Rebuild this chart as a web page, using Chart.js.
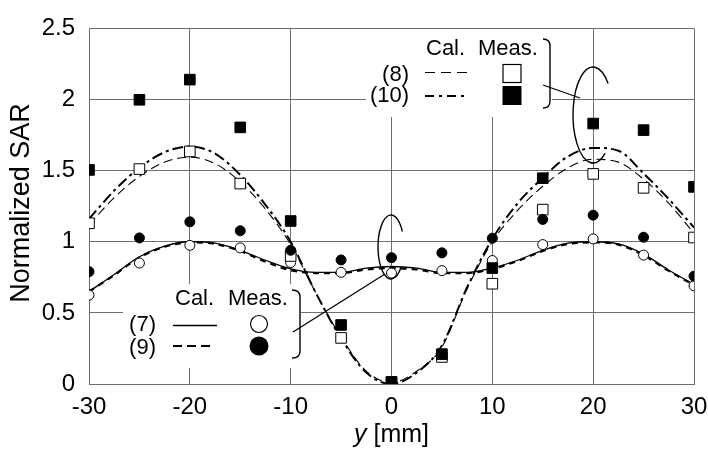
<!DOCTYPE html>
<html>
<head>
<meta charset="utf-8">
<script src="https://cdn.jsdelivr.net/npm/chart.js@4"></script>
<style>
html,body{margin:0;padding:0;background:#fff;}
#wrap{width:708px;height:452px;}
</style>
</head>
<body>
<div id="wrap"><canvas id="c" width="708" height="452"></canvas></div>
<script>
// ---- data ----
const xCurve = [-30,-27.5,-25,-22.5,-20,-17.5,-15,-12.5,-10,-7.5,-5,-2.5,0,2.5,5,7.5,10,12.5,15,17.5,20,22.5,25,27.5,30];
const cal7  = [0.65,0.77,0.895,0.97,1.0,0.99,0.94,0.87,0.81,0.785,0.785,0.815,0.826,0.815,0.785,0.785,0.815,0.87,0.94,0.99,1.0,0.985,0.913,0.80,0.70];
const cal9  = [0.65,0.765,0.89,0.965,0.995,0.985,0.935,0.86,0.80,0.78,0.78,0.805,0.815,0.805,0.78,0.78,0.81,0.865,0.935,0.985,0.995,0.98,0.905,0.795,0.695];
const cal8  = [1.12,1.31,1.46,1.56,1.595,1.55,1.42,1.23,0.98,0.64,0.33,0.09,0.01,0.09,0.26,0.67,1.0,1.22,1.39,1.52,1.58,1.56,1.44,1.27,1.06];
const cal10 = [1.16,1.36,1.52,1.63,1.67,1.62,1.47,1.26,1.0,0.64,0.32,0.08,0.0,0.08,0.27,0.68,1.02,1.27,1.45,1.6,1.66,1.64,1.48,1.3,1.1];

const xMeas  = [-30,-25,-20,-15,-10,-5,0,5,10,15,20,25,30];
const meas7  = [0.625,0.85,0.975,0.957,0.854,0.785,0.78,0.797,0.868,0.98,1.02,0.906,0.69];
const meas9  = [0.79,1.027,1.14,1.077,0.94,0.872,0.888,0.922,1.025,1.157,1.187,1.032,0.758];
const meas8  = [1.13,1.511,1.635,1.409,0.9,0.324,0.01,0.19,0.705,1.226,1.477,1.379,1.03];
const meas10 = [1.505,1.998,2.14,1.804,1.146,0.415,0.015,0.21,0.815,1.447,1.831,1.785,1.386];

const xTicks = [-30,-20,-10,0,10,20,30];
const yTicks = [0,0.5,1,1.5,2,2.5];

const pts = (xs, ys) => xs.map((x, i) => ({x: x, y: ys[i]}));

const FONT = '"Liberation Sans", Arial, Helvetica, sans-serif';

const annot = {
  id: 'annot',
  beforeDatasetsDraw(chart) {
    const ctx = chart.ctx;
    ctx.save();
    ctx.fillStyle = '#fff';
    ctx.fillRect(366, 29, 186, 88);
    ctx.fillRect(123, 284, 178, 84);
    ctx.restore();
  },
  afterDatasetsDraw(chart) {
    const ctx = chart.ctx;
    ctx.save();
    ctx.fillStyle = '#000';
    ctx.strokeStyle = '#000';
    ctx.font = '22px ' + FONT;
    ctx.textBaseline = 'alphabetic';
    // upper legend
    ctx.textAlign = 'left';
    ctx.fillText('Cal.', 426, 55);
    ctx.fillText('Meas.', 478, 55);
    ctx.textAlign = 'right';
    ctx.fillText('(8)', 409, 81);
    ctx.fillText('(10)', 409, 102);
    // lower legend
    ctx.textAlign = 'left';
    ctx.fillText('Cal.', 175, 305);
    ctx.fillText('Meas.', 228, 305);
    ctx.textAlign = 'right';
    ctx.fillText('(7)', 156, 331);
    ctx.fillText('(9)', 156, 354);

    const seg = (x1, y1, x2, y2, w, dash) => {
      ctx.beginPath();
      ctx.lineWidth = w;
      ctx.setLineDash(dash || []);
      ctx.moveTo(x1, y1); ctx.lineTo(x2, y2);
      ctx.stroke();
      ctx.setLineDash([]);
    };
    seg(425, 72.5, 468, 72.5, 1, [10, 6]);
    seg(425, 96, 468, 96, 2, [9, 5, 3, 5]);
    seg(173, 325.5, 217, 325.5, 1.3);
    seg(173, 346, 215, 346, 2, [9, 5]);

    // legend markers
    ctx.lineWidth = 1.2;
    ctx.fillStyle = '#fff';
    ctx.fillRect(503, 64.5, 18, 18);
    ctx.strokeRect(503, 64.5, 18, 18);
    ctx.fillStyle = '#000';
    ctx.fillRect(502.5, 86, 19, 19);
    ctx.beginPath(); ctx.arc(259, 324, 8.5, 0, Math.PI * 2);
    ctx.fillStyle = '#fff'; ctx.fill(); ctx.stroke();
    ctx.beginPath(); ctx.arc(259, 346, 9.5, 0, Math.PI * 2);
    ctx.fillStyle = '#000'; ctx.fill();

    // brackets
    ctx.lineWidth = 1.4;
    ctx.beginPath();
    ctx.moveTo(543, 39); ctx.quadraticCurveTo(550, 39, 550, 46);
    ctx.lineTo(550, 101); ctx.quadraticCurveTo(550, 108, 543, 108);
    ctx.stroke();
    ctx.beginPath();
    ctx.moveTo(292, 290); ctx.quadraticCurveTo(300, 290, 300, 297);
    ctx.lineTo(300, 351); ctx.quadraticCurveTo(300, 358, 292, 358);
    ctx.stroke();

    // connectors
    seg(543, 85, 580, 98, 1.3);
    seg(293, 332, 385, 274, 1.3);

    // ellipses
    const d = Math.PI / 180;
    ctx.lineWidth = 1.4;
    ctx.beginPath();
    ctx.ellipse(593, 115, 20, 48, 0, 53 * d, 319 * d);
    ctx.stroke();
    ctx.beginPath();
    ctx.ellipse(391, 247, 13, 32, 0, 40 * d, 331 * d);
    ctx.stroke();

    // axis titles
    ctx.fillStyle = '#000';
    ctx.textBaseline = 'alphabetic';
    const italic = 'italic 25px ' + FONT;
    const normal = '25px ' + FONT;
    ctx.font = italic; const w1 = ctx.measureText('y').width;
    ctx.font = normal; const w2 = ctx.measureText(' [mm]').width;
    const x0 = 391.5 - (w1 + w2) / 2;
    ctx.textAlign = 'left';
    ctx.font = italic; ctx.fillText('y', x0, 442);
    ctx.font = normal; ctx.fillText(' [mm]', x0 + w1, 442);

    ctx.translate(22, 203);
    ctx.rotate(-Math.PI / 2);
    ctx.font = '27px ' + FONT;
    ctx.textAlign = 'center';
    ctx.textBaseline = 'middle';
    ctx.fillText('Normalized SAR', 0, 0);
    ctx.restore();
  }
};

const lineDs = (ys, w, dash, order) => ({
  data: pts(xCurve, ys), showLine: true, borderColor: '#000', borderWidth: w,
  borderDash: dash, pointRadius: 0, fill: false, cubicInterpolationMode: 'monotone', order: order
});
const markDs = (ys, style, r, filled, order) => ({
  data: pts(xMeas, ys), showLine: false, pointStyle: style, pointRadius: r,
  pointBackgroundColor: filled ? '#000' : '#fff', pointBorderColor: '#000',
  pointBorderWidth: 1, order: order
});

new Chart(document.getElementById('c'), {
  type: 'scatter',
  data: {
    datasets: [
      lineDs(cal7, 1.3, [], 6),
      lineDs(cal9, 2.2, [6, 5], 7),
      lineDs(cal8, 1.1, [9, 5], 8),
      lineDs(cal10, 2, [11, 4, 3, 4], 9),
      markDs(meas7, 'circle', 5, false, 4),
      markDs(meas9, 'circle', 5, true, 2),
      markDs(meas8, 'rect', 7.5, false, 3),
      markDs(meas10, 'rect', 7.5, true, 1)
    ]
  },
  options: {
    responsive: false,
    animation: false,
    devicePixelRatio: 1,
    layout: {padding: {left: 0, right: 14, top: 19, bottom: 0}},
    plugins: {legend: {display: false}, tooltip: {enabled: false}},
    scales: {
      x: {
        type: 'linear', min: -30, max: 30,
        afterBuildTicks: s => { s.ticks = xTicks.map(v => ({value: v})); },
        afterFit: s => { s.height = 68; s.paddingLeft = 0; s.paddingRight = 0; },
        grid: {color: '#6e6e6e', lineWidth: 1, drawTicks: false},
        border: {color: '#6e6e6e'},
        ticks: {color: '#000', padding: 9, font: {size: 24, family: FONT}, callback: v => String(v)}
      },
      y: {
        type: 'linear', min: 0, max: 2.5,
        afterBuildTicks: s => { s.ticks = yTicks.map(v => ({value: v})); },
        afterFit: s => { s.width = 89; },
        grid: {color: '#6e6e6e', lineWidth: 1, drawTicks: false},
        border: {color: '#6e6e6e'},
        ticks: {color: '#000', padding: 14, font: {size: 24, family: FONT}, callback: v => String(v)}
      }
    }
  },
  plugins: [annot]
});
</script>
</body>
</html>
